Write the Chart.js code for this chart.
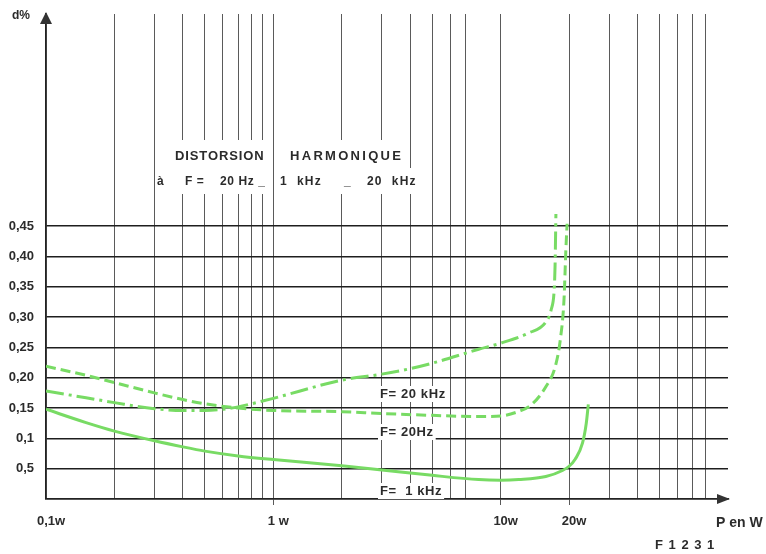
<!DOCTYPE html>
<html>
<head>
<meta charset="utf-8">
<script src="https://cdn.jsdelivr.net/npm/chart.js@4.4.0/dist/chart.umd.min.js"></script>
<style>
  html, body { margin: 0; padding: 0; background: #fff; }
  canvas { display: block; }
</style>
</head>
<body>
<canvas id="chart" width="766" height="554"></canvas>
<script>
// puissance (W), echelle log
const xTicks = [0.1, 0.2, 0.3, 0.4, 0.5, 0.6, 0.7, 0.8, 0.9, 1, 2, 3, 4, 5, 6, 7, 10, 20, 30, 40, 50, 60, 70, 80];
const xTickLabels = { 0.1: '0,1w', 1: '1 w', 10: '10w', 20: '20w' };
const xTickMarks = [1, 10, 20];

// distorsion (%)
const yTicks = [0, 0.05, 0.1, 0.15, 0.2, 0.25, 0.3, 0.35, 0.4, 0.45];
const yTickLabels = ['', '0,5', '0,1', '0,15', '0,20', '0,25', '0,30', '0,35', '0,40', '0,45'];

// F = 1 kHz (trait plein)
const p1k = [0.1, 0.15, 0.2, 0.3, 0.4, 0.5, 0.7, 1, 2, 3, 5, 8, 10, 12, 15.8, 18.7, 20, 21.3, 22.9, 23.8, 24.3];
const d1k = [0.148, 0.126, 0.112, 0.096, 0.086, 0.079, 0.071, 0.065, 0.055, 0.048, 0.039, 0.032, 0.031, 0.032, 0.037, 0.047, 0.054, 0.066, 0.092, 0.125, 0.156];

// F = 20 Hz (tirets)
const p20hz = [0.1, 0.15, 0.2, 0.3, 0.4, 0.5, 0.7, 1, 2, 3, 5, 8, 10, 12.1, 13.7, 15.8, 17.4, 18.3, 19.0, 19.35, 19.6];
const d20hz = [0.219, 0.204, 0.192, 0.175, 0.164, 0.157, 0.150, 0.146, 0.144, 0.141, 0.138, 0.136, 0.137, 0.145, 0.156, 0.185, 0.219, 0.263, 0.330, 0.410, 0.454];

// F = 20 kHz (trait mixte)
const p20k = [0.1, 0.15, 0.2, 0.3, 0.4, 0.5, 0.6, 0.7, 0.8, 1, 2, 3, 4, 5, 8, 10, 13.3, 15.8, 16.7, 17.2, 17.35, 17.5];
const d20k = [0.178, 0.167, 0.159, 0.149, 0.146, 0.146, 0.148, 0.152, 0.157, 0.166, 0.196, 0.206, 0.215, 0.224, 0.247, 0.257, 0.274, 0.292, 0.313, 0.346, 0.385, 0.470];

const VERT = '#78db64';
const INK = '#2b2b2b';
const FONT = '"Liberation Sans", Arial, sans-serif';

function points(xs, ys) {
  return xs.map((x, i) => ({ x: x, y: ys[i] }));
}

Chart.defaults.font.family = FONT;
Chart.defaults.font.size = 13;
Chart.defaults.font.weight = 'bold';
Chart.defaults.color = INK;

function textBox(ctx, txt, x, y) {
  const w = ctx.measureText(txt).width;
  ctx.fillStyle = '#fff';
  ctx.fillRect(x - 2, y - 8, w + 4, 16);
  ctx.fillStyle = INK;
  ctx.fillText(txt, x, y);
}

const decor = {
  id: 'decor',
  afterDraw(chart) {
    const ctx = chart.ctx;
    const area = chart.chartArea;
    const x0 = chart.scales.x.getPixelForValue(0.1);
    const y0 = chart.scales.y.getPixelForValue(0);
    ctx.save();

    // fleches des axes
    ctx.fillStyle = '#333';
    ctx.beginPath();
    ctx.moveTo(x0, area.top - 2);
    ctx.lineTo(x0 - 6, area.top + 10);
    ctx.lineTo(x0 + 6, area.top + 10);
    ctx.closePath();
    ctx.fill();
    ctx.beginPath();
    ctx.moveTo(area.right + 2, y0);
    ctx.lineTo(area.right - 11, y0 - 5);
    ctx.lineTo(area.right - 11, y0 + 5);
    ctx.closePath();
    ctx.fill();

    // titre avec fond blanc coupant la grille
    ctx.fillStyle = '#fff';
    ctx.fillRect(158, 140, 112, 54);
    ctx.fillRect(279, 140, 126, 54);
    ctx.fillRect(405, 168, 22, 26);

    ctx.fillStyle = INK;
    ctx.textBaseline = 'middle';
    ctx.font = 'bold 13px ' + FONT;
    ctx.letterSpacing = '0.9px';
    ctx.fillText('DISTORSION', 175, 156);
    ctx.letterSpacing = '2.3px';
    ctx.fillText('HARMONIQUE', 290, 156);
    ctx.letterSpacing = '0.6px';
    ctx.font = 'bold 12px ' + FONT;
    ctx.fillText('à', 157, 182);
    ctx.fillText('F =', 185, 182);
    ctx.fillText('20 Hz _', 220, 182);
    ctx.letterSpacing = '1.2px';
    ctx.fillText('1  kHz', 280, 182);
    ctx.fillText('_', 344, 182);
    ctx.fillText('20  kHz', 367, 182);

    // etiquettes des courbes
    ctx.font = 'bold 13px ' + FONT;
    ctx.letterSpacing = '0.6px';
    textBox(ctx, 'F= 20 kHz', 380, 394);
    textBox(ctx, 'F= 20Hz', 380, 432);
    textBox(ctx, 'F=  1 kHz', 380, 491);

    // unites
    ctx.letterSpacing = '0px';
    ctx.font = 'bold 12px ' + FONT;
    ctx.fillText('d%', 12, 16);
    ctx.font = 'bold 14px ' + FONT;
    ctx.fillText('P en W', 716, 523);
    ctx.font = 'bold 13px ' + FONT;
    ctx.letterSpacing = '1px';
    ctx.fillText('F 1 2 3 1', 655, 545);
    ctx.restore();
  }
};

new Chart(document.getElementById('chart'), {
  type: 'line',
  data: {
    datasets: [
      {
        label: 'F = 1 kHz',
        data: points(p1k, d1k),
        borderColor: VERT,
        borderWidth: 3,
        pointRadius: 0,
        cubicInterpolationMode: 'monotone'
      },
      {
        label: 'F = 20 Hz',
        data: points(p20hz, d20hz),
        borderColor: VERT,
        borderWidth: 3,
        borderDash: [10, 5],
        pointRadius: 0,
        cubicInterpolationMode: 'monotone'
      },
      {
        label: 'F = 20 kHz',
        data: points(p20k, d20k),
        borderColor: VERT,
        borderWidth: 3,
        borderDash: [18, 5, 3, 5],
        pointRadius: 0,
        cubicInterpolationMode: 'monotone'
      }
    ]
  },
  options: {
    responsive: false,
    animation: false,
    layout: { padding: { top: 14, right: 38, left: 0, bottom: 0 } },
    plugins: { legend: { display: false }, tooltip: { enabled: false } },
    scales: {
      x: {
        type: 'logarithmic',
        min: 0.1,
        max: 100,
        afterBuildTicks: s => { s.ticks = xTicks.map(v => ({ value: v })); },
        afterFit: s => { s.height = 55; },
        ticks: {
          autoSkip: false,
          maxRotation: 0,
          padding: 9,
          labelOffset: 5,
          callback: v => xTickLabels[v] || ''
        },
        grid: {
          color: '#5a5a5a',
          lineWidth: 1,
          tickLength: 6,
          tickColor: c => (c.tick && xTickMarks.includes(c.tick.value)) ? '#5a5a5a' : 'rgba(0,0,0,0)'
        },
        border: { color: '#222', width: 1.5 }
      },
      y: {
        min: 0,
        max: 0.8,
        afterBuildTicks: s => { s.ticks = yTicks.map(v => ({ value: v })); },
        afterFit: s => { s.width = 46; s.paddingTop = 0; s.paddingBottom = 0; },
        ticks: {
          padding: 12,
          callback: (v, i) => yTickLabels[i]
        },
        grid: { color: '#1e1e1e', lineWidth: 1.4, drawTicks: false },
        border: { color: '#222', width: 1.5 }
      }
    }
  },
  plugins: [decor]
});
</script>
</body>
</html>
